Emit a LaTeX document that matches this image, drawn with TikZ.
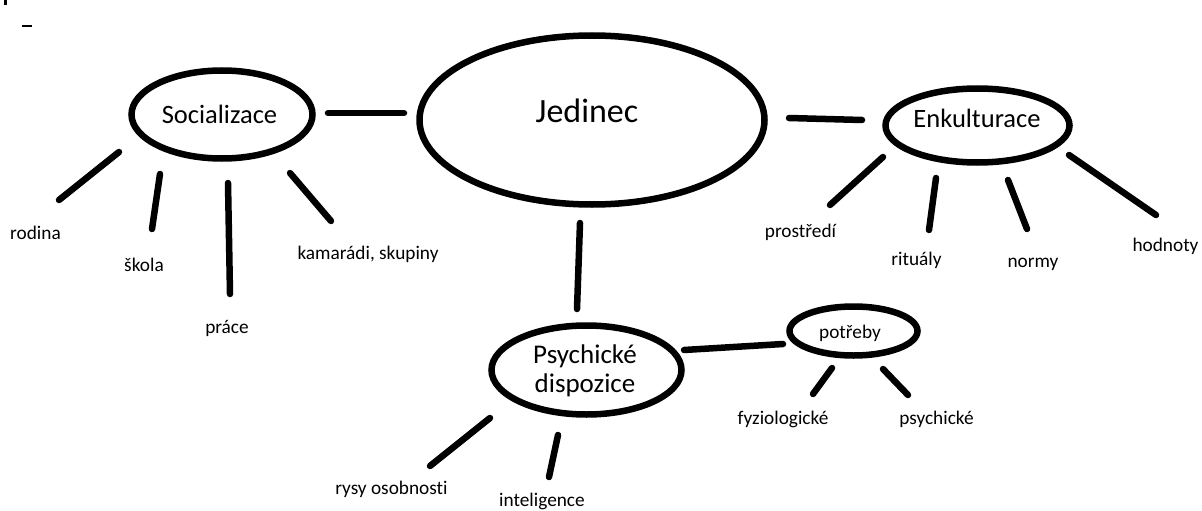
\documentclass[tikz,border=0pt]{standalone}
\usepackage{fontspec}
\setmainfont{Carlito}[Ligatures=NoCommon]
\usetikzlibrary{shapes.geometric}
\begin{document}
\begin{tikzpicture}[x=1pt,y=-1pt,
  bubble/.style={draw, ellipse, line width=6.5pt, inner sep=0pt, outer sep=0pt},
  conn/.style={line width=6.5pt, line cap=round},
  leaf/.style={font=\fontsize{19.3}{23}\selectfont, anchor=base, inner sep=0pt},
  mainlbl/.style={font=\fontsize{26.5}{29}\selectfont, anchor=base, inner sep=0pt},
  biglbl/.style={font=\fontsize{34}{38}\selectfont, anchor=base, inner sep=0pt}]
\fill[white] (0,0) rectangle (1202,511);
\useasboundingbox (0,0) rectangle (1202,511);

% stray marks
\fill[black] (4,0) rectangle (7,5);
\draw[line width=1.6pt] (22,26) -- (32,26);

% bubbles
\node[bubble, minimum width=181pt, minimum height=88pt] (soc) at (222,114.5) {};
\node[bubble, minimum width=345pt, minimum height=169pt] (jed) at (592,120) {};
\node[bubble, minimum width=184pt, minimum height=74pt] (enk) at (977.5,125.5) {};
\node[bubble, minimum width=190pt, minimum height=89pt] (psy) at (586.5,370) {};
\node[bubble, minimum width=128pt, minimum height=49pt] (pot) at (853.5,331) {};

% bubble texts
\node[mainlbl] (tsoc) at (219.5,123) {Socializace};
\node[biglbl] (tjed) at (587,122) {Jedinec};
\node[mainlbl] (tenk) at (977,127) {Enkulturace};
\node[font=\fontsize{27}{29}\selectfont, align=center, inner sep=0pt] (tpsy) at (585,371) {Psychické\\dispozice};
\node[leaf] (tpot) at (850,338) {potřeby};

% leaf labels
\node[leaf] (rodina) at (35.5,239) {rodina};
\node[leaf] (skola) at (144,271) {škola};
\node[leaf] (prace) at (227,333) {práce};
\node[leaf] (kamaradi) at (368,259) {kamarádi, skupiny};
\node[leaf] (prostredi) at (800.5,237) {prostředí};
\node[leaf] (ritualy) at (916.5,265) {rituály};
\node[leaf] (normy) at (1033,267) {normy};
\node[leaf] (hodnoty) at (1165.5,251) {hodnoty};
\node[leaf] (fyzio) at (783,424) {fyziologické};
\node[leaf] (psych) at (936.5,424) {psychické};
\node[leaf] (rysy) at (391.5,494) {rysy osobnosti};
\node[leaf] (intel) at (542,506) {inteligence};

% connector end points
\coordinate (sj1) at (328,113);
\coordinate (sj2) at (404,113);
\coordinate (je1) at (789,118);
\coordinate (je2) at (862,120);
\coordinate (jp1) at (580,223);
\coordinate (jp2) at (577,309);
\coordinate (pp1) at (684,350);
\coordinate (pp2) at (783,344);

\coordinate (r1) at (119,152);
\coordinate (r2) at (59,200);
\coordinate (s1) at (160,174);
\coordinate (s2) at (152,229);
\coordinate (p1) at (228,183);
\coordinate (p2) at (230,294);
\coordinate (k1) at (290,173);
\coordinate (k2) at (331,221);

\coordinate (e1) at (883,157);
\coordinate (e2) at (830,205);
\coordinate (e3) at (936,178);
\coordinate (e4) at (929,230);
\coordinate (e5) at (1008,180);
\coordinate (e6) at (1027,229);
\coordinate (e7) at (1069,155);
\coordinate (e8) at (1156,215);

\coordinate (f1) at (832,368);
\coordinate (f2) at (813,394);
\coordinate (g1) at (883,369);
\coordinate (g2) at (908,395);

\coordinate (y1) at (490,418);
\coordinate (y2) at (430,466);
\coordinate (i1) at (558,435);
\coordinate (i2) at (549,477);

% connectors
\draw[conn] (sj1) -- (sj2);
\draw[conn] (je1) -- (je2);
\draw[conn] (jp1) -- (jp2);
\draw[conn] (pp1) -- (pp2);
\draw[conn] (r1) -- (r2);
\draw[conn] (s1) -- (s2);
\draw[conn] (p1) -- (p2);
\draw[conn] (k1) -- (k2);
\draw[conn] (e1) -- (e2);
\draw[conn] (e3) -- (e4);
\draw[conn] (e5) -- (e6);
\draw[conn] (e7) -- (e8);
\draw[conn] (f1) -- (f2);
\draw[conn] (g1) -- (g2);
\draw[conn] (y1) -- (y2);
\draw[conn] (i1) -- (i2);
\end{tikzpicture}
\end{document}
